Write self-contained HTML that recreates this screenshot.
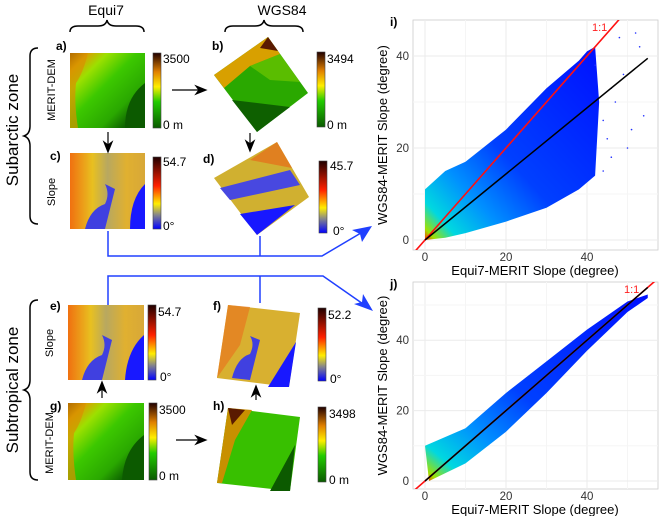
<!DOCTYPE html>
<html><head><meta charset="utf-8"><style>
html,body{margin:0;padding:0;background:#fff;width:660px;height:516px;overflow:hidden}
svg{display:block;font-family:"Liberation Sans",sans-serif}
</style></head><body>
<svg id="fig" width="660" height="516" viewBox="0 0 660 516">
<defs>
<linearGradient id="dem" x1="0" y1="1" x2="0" y2="0"><stop offset="0" stop-color="#0a5a00"/><stop offset="0.35" stop-color="#22cc00"/><stop offset="0.55" stop-color="#ffee00"/><stop offset="0.75" stop-color="#e08000"/><stop offset="1" stop-color="#200000"/></linearGradient>
<linearGradient id="slp" x1="0" y1="1" x2="0" y2="0"><stop offset="0" stop-color="#0000ff"/><stop offset="0.2" stop-color="#888888"/><stop offset="0.35" stop-color="#ffee00"/><stop offset="0.6" stop-color="#ff2000"/><stop offset="1" stop-color="#200000"/></linearGradient>
<linearGradient id="demimg" x1="0" y1="0" x2="1" y2="1"><stop offset="0" stop-color="#5a1a00"/><stop offset="0.12" stop-color="#d8a000"/><stop offset="0.25" stop-color="#9ce000"/><stop offset="0.45" stop-color="#3cc800"/><stop offset="0.7" stop-color="#2aa800"/><stop offset="0.85" stop-color="#0e6400"/><stop offset="1" stop-color="#0a5000"/></linearGradient>
<linearGradient id="slpimg" x1="0" y1="0" x2="1" y2="0"><stop offset="0" stop-color="#f07010"/><stop offset="0.3" stop-color="#e8c020"/><stop offset="0.5" stop-color="#b8a860"/><stop offset="0.75" stop-color="#e0b030"/><stop offset="1" stop-color="#d8a838"/></linearGradient>
<linearGradient id="slpimg2" x1="0" y1="0" x2="1" y2="0"><stop offset="0" stop-color="#f07010"/><stop offset="0.3" stop-color="#e8c020"/><stop offset="0.5" stop-color="#b8a860"/><stop offset="0.75" stop-color="#e0b030"/><stop offset="1" stop-color="#d8a838"/></linearGradient>
<linearGradient id="cloud" x1="0" y1="1" x2="1" y2="0"><stop offset="0" stop-color="#ff3000"/><stop offset="0.03" stop-color="#a0e000"/><stop offset="0.1" stop-color="#00d8e0"/><stop offset="0.25" stop-color="#0090ff"/><stop offset="0.45" stop-color="#0040ff"/><stop offset="1" stop-color="#0010ff"/></linearGradient>
</defs>

<text x="106" y="15" font-size="14" text-anchor="middle">Equi7</text>
<text x="282" y="15" font-size="14" text-anchor="middle">WGS84</text>
<path d="M70,32 q0,-6 8,-6 h20 q8,0 9,-6 q1,6 9,6 h20 q8,0 8,6" fill="none" stroke="#000" stroke-width="1.5"/>
<path d="M225,32 q0,-6 8,-6 h22 q8,0 9,-6 q1,6 9,6 h22 q8,0 8,6" fill="none" stroke="#000" stroke-width="1.5"/>
<path d="M38,48 q-8,0 -8,8 v70 q0,8 -6,10 q6,2 6,10 v70 q0,8 8,8" fill="none" stroke="#000" stroke-width="1.5"/>
<path d="M38,300 q-8,0 -8,8 v72 q0,8 -6,10 q6,2 6,10 v72 q0,8 8,8" fill="none" stroke="#000" stroke-width="1.5"/>
<text transform="translate(18,130) rotate(-90)" font-size="17" text-anchor="middle">Subarctic zone</text>
<text transform="translate(18,390) rotate(-90)" font-size="17" text-anchor="middle">Subtropical zone</text>
<text transform="translate(55,90) rotate(-90)" font-size="11" text-anchor="middle">MERIT-DEM</text>
<text transform="translate(55,192) rotate(-90)" font-size="11" text-anchor="middle">Slope</text>
<text transform="translate(53,343) rotate(-90)" font-size="11" text-anchor="middle">Slope</text>
<text transform="translate(53,443) rotate(-90)" font-size="11" text-anchor="middle">MERIT-DEM</text>

<g font-size="12" font-weight="bold">
<text x="56" y="50">a)</text>
<text x="212" y="50">b)</text>
<text x="50" y="160">c)</text>
<text x="203" y="163">d)</text>
<text x="50" y="310">e)</text>
<text x="213" y="310">f)</text>
<text x="50" y="410">g)</text>
<text x="213" y="410">h)</text>
</g>

<g><rect x="70" y="53" width="75" height="75" fill="url(#demimg)"/><path d="M70,53 h18 q-5,20 -12,30 q-2,20 2,45 h-8z" fill="#d89000" opacity="0.7"/><path d="M125,128 q0,-30 20,-45 v45z" fill="#0c5a00"/></g>
<g><polygon points="268,37 308,93 257,132 214,75" fill="#2aa800"/><polygon points="268,37 280,54 250,66 224,88 214,75" fill="#d8a000"/><polygon points="268,37 278,51 260,48" fill="#5a1a00"/><polygon points="232,100 290,107 257,132" fill="#0e6000"/><polygon points="280,54 300,82 270,80 250,66" fill="#7ccc00" opacity="0.6"/></g>
<g><rect x="70" y="153" width="75" height="76" fill="#d8b030"/><rect x="70" y="153" width="75" height="76" fill="url(#slpimg2)"/><path d="M85,229 q5,-20 20,-25 q5,-10 0,-20 l10,5 q-5,20 -10,40z" fill="#4040e0"/><path d="M130,229 q0,-30 15,-45 v45z" fill="#1818ff"/></g>
<g><polygon points="277,142 309,197 257,235 214,178" fill="#d0b030"/><polygon points="220,188 290,170 300,185 230,200" fill="#4848e0"/><polygon points="240,214 295,205 257,235" fill="#1818ff"/><polygon points="277,142 292,168 250,160" fill="#e08020"/></g>
<g><rect x="68" y="305" width="76" height="75" fill="url(#slpimg)"/><path d="M82,380 q5,-20 20,-25 q5,-10 0,-20 l10,5 q-5,20 -10,40z" fill="#4040e0"/><path d="M125,380 q2,-30 19,-45 v45z" fill="#1818ff"/></g>
<g><polygon points="228,305 300,313 289,387 217,378" fill="#d8b030"/><polygon points="228,305 250,307 240,345 217,378" fill="#e87820" opacity="0.7"/><path d="M232,378 q5,-20 18,-24 q5,-10 0,-18 l10,4 q-5,20 -10,40z" fill="#4040e0"/><polygon points="268,387 296,342 289,387" fill="#1818ff"/></g>
<g><rect x="68" y="403" width="76" height="77" fill="url(#demimg)"/><path d="M68,403 h18 q-5,20 -12,30 q-2,20 2,47 h-8z" fill="#d89000" opacity="0.7"/><path d="M122,480 q2,-30 22,-45 v45z" fill="#0c5a00"/></g>
<g><polygon points="228,408 300,417 290,491 217,483" fill="#38c000"/><polygon points="228,408 252,410 235,440 222,483 217,483" fill="#c89000"/><polygon points="228,408 245,410 232,425" fill="#5a1a00"/><polygon points="270,491 295,445 290,491" fill="#0c5a00"/></g>

<g font-size="12">
<rect x="153" y="53" width="8" height="75" fill="url(#dem)" stroke="#444" stroke-width="0.6"/>
<text x="163" y="63">3500</text><text x="163" y="129">0 m</text>
<rect x="153" y="157" width="8" height="72" fill="url(#slp)" stroke="#444" stroke-width="0.6"/>
<text x="163" y="166">54.7</text><text x="163" y="230">0°</text>
<rect x="317" y="52" width="8" height="75" fill="url(#dem)" stroke="#444" stroke-width="0.6"/>
<text x="327" y="63">3494</text><text x="327" y="129">0 m</text>
<rect x="319" y="161" width="8" height="72" fill="url(#slp)" stroke="#444" stroke-width="0.6"/>
<text x="330" y="170">45.7</text><text x="333" y="235">0°</text>
<rect x="148" y="305" width="8" height="75" fill="url(#slp)" stroke="#444" stroke-width="0.6"/>
<text x="158" y="316">54.7</text><text x="160" y="381">0°</text>
<rect x="318" y="308" width="8" height="73" fill="url(#slp)" stroke="#444" stroke-width="0.6"/>
<text x="328" y="319">52.2</text><text x="330" y="383">0°</text>
<rect x="149" y="403" width="8" height="77" fill="url(#dem)" stroke="#444" stroke-width="0.6"/>
<text x="159" y="414">3500</text><text x="159" y="480">0 m</text>
<rect x="318" y="407" width="8" height="75" fill="url(#dem)" stroke="#444" stroke-width="0.6"/>
<text x="329" y="418">3498</text><text x="329" y="484">0 m</text>
</g>

<g stroke="#000" stroke-width="1.2" fill="#000">
<line x1="172" y1="90" x2="200" y2="90"/><polygon points="206,90 196,86 199,90 196,94"/>
<line x1="108" y1="132" x2="108" y2="146"/><polygon points="108,152 104,142 108,145 112,142"/>
<line x1="250" y1="133" x2="250" y2="145"/><polygon points="250,151 246,141 250,144 254,141"/>
<line x1="102" y1="398" x2="102" y2="388"/><polygon points="102,382 98,392 102,389 106,392"/>
<line x1="256" y1="400" x2="256" y2="392"/><polygon points="256,386 252,396 256,393 260,396"/>
<line x1="176" y1="440" x2="200" y2="440"/><polygon points="206,440 196,436 199,440 196,444"/>
</g>

<g stroke="#2040ff" stroke-width="1.5" fill="none">
<path d="M108,231 V256 H322 L366,230"/>
<line x1="260" y1="236" x2="260" y2="256"/>
<path d="M108,305 V276 H323 L366,306"/>
<line x1="260" y1="303" x2="260" y2="276"/>
</g>
<polygon points="372,226 352,230 360,234 362,242" fill="#2040ff"/>
<polygon points="373,311 363,294 362,302 354,304" fill="#2040ff"/>

<g id="plots"></g>
</svg>
<script>
// Panel i data
const iCats = [0, 5, 10, 20, 30, 38, 40, 42];
const iUpper = [11, 15, 17, 24, 33, 39, 41, 42];
const iLowerX = [0, 5, 10, 20, 30, 38, 42, 43];
const iLower = [0, 0.5, 1.5, 4, 7, 11, 14, 30];
const iFit = [0, 39.5];
const iScatterX = [42, 44, 46, 48, 50, 52, 54, 45, 49, 53, 47, 51, 44, 46];
const iScatterY = [38, 26, 33, 44, 20, 45, 27, 22, 36, 42, 30, 24, 15, 18];
// Panel j data
const jCats = [0, 10, 20, 30, 40, 50, 55];
const jUpper = [10, 15, 25, 34, 43, 51, 53];
const jLowerX = [1, 10, 20, 30, 40, 50, 55];
const jLower = [0, 5, 14, 25, 37, 48, 52];
const jFit = [0, 55];
const xTicks = [0, 20, 40];
const iYTicks = [0, 20, 40];
const jYTicks = [0, 20, 40];

const NS = 'http://www.w3.org/2000/svg';
const root = document.getElementById('plots');
function mk(tag, attrs, parent) { const e = document.createElementNS(NS, tag); for (const k in attrs) e.setAttribute(k, attrs[k]); (parent || root).appendChild(e); return e; }

function panel(cfg) {
  const g = mk('g', {});
  
  
  const xs = v => 425 + v * 4.05;
  const ys = v => cfg.y0 - v * cfg.ky;
  mk('rect', { x: 413, y: cfg.top, width: 245, height: cfg.bottom - cfg.top, fill: '#fff', stroke: '#ccc', 'stroke-width': 0.8 }, g);
  for (let v = 0; v <= 50; v += 10) {
    mk('line', { x1: xs(v), x2: xs(v), y1: cfg.top, y2: cfg.bottom, stroke: v % 20 === 0 ? '#ebebeb' : '#f5f5f5' }, g);
  }
  for (let v = 0; v <= cfg.ymax; v += 10) {
    if (ys(v) < cfg.top) continue;
    mk('line', { x1: 413, x2: 658, y1: ys(v), y2: ys(v), stroke: v % 20 === 0 ? '#ebebeb' : '#f5f5f5' }, g);
  }
  let pts = cfg.cats.map((c, k) => xs(c) + ',' + ys(cfg.upper[k]));
  for (let k = cfg.lowerX.length - 1; k >= 0; k--) pts.push(xs(cfg.lowerX[k]) + ',' + ys(cfg.lower[k]));
  const cl = mk('polygon', { points: pts.join(' '), fill: 'url(#cloud)' }, g);
  
  
  (cfg.sx || []).forEach((x, k) => {
    const d = mk('circle', { cx: xs(x), cy: ys(cfg.sy[k]), r: 0.8, fill: '#2030ff' }, g);
    
    
  });
  const lo = -3, hi = 60;
  const one = mk('line', { x1: xs(lo), y1: ys(lo), x2: xs(hi), y2: ys(hi), stroke: '#ff1010', 'stroke-width': 1.6 }, g);
  
  
  const cp = mk('clipPath', { id: 'clip' + cfg.name }, g);
  mk('rect', { x: 413, y: cfg.top, width: 245, height: cfg.bottom - cfg.top }, cp);
  one.setAttribute('clip-path', 'url(#clip' + cfg.name + ')');
  const fit = mk('line', { x1: xs(0), y1: ys(cfg.fit[0]), x2: xs(55), y2: ys(cfg.fit[1]), stroke: '#000', 'stroke-width': 1.5 }, g);
  
  
  const t = mk('text', { x: cfg.lblx, y: cfg.top + 11, fill: '#ff2020', 'font-size': 11 }, g);
  t.textContent = '1:1';
  
  
  xTicks.forEach(v => { const e = mk('text', { x: xs(v), y: cfg.bottom + 11, 'font-size': 11.5, 'text-anchor': 'middle', fill: '#333' }, g); e.textContent = v;
      });
  cfg.yt.forEach(v => { const e = mk('text', { x: 409, y: ys(v) + 4, 'font-size': 11.5, 'text-anchor': 'end', fill: '#333' }, g); e.textContent = v;
      });
  const xt = mk('text', { x: 535, y: cfg.bottom + 25, 'font-size': 13, 'text-anchor': 'middle' }, g);
  xt.textContent = 'Equi7-MERIT Slope (degree)';
  
  
  const yt = mk('text', { transform: 'translate(387,' + ((cfg.top + cfg.bottom) / 2) + ') rotate(-90)', 'font-size': 13, 'text-anchor': 'middle' }, g);
  yt.textContent = 'WGS84-MERIT Slope (degree)';
  
  
  const pl = mk('text', { x: 390, y: cfg.top + 6, 'font-size': 12, 'font-weight': 'bold' }, g);
  pl.textContent = cfg.label;
  
  
}
panel({ name: 'scatter-i', label: 'i)', top: 20, bottom: 250, y0: 240, ky: 4.6, ymax: 45, cats: iCats, upper: iUpper, lowerX: iLowerX, lower: iLower, fit: iFit, sx: iScatterX, sy: iScatterY, yt: iYTicks, lblx: 592 });
panel({ name: 'scatter-j', label: 'j)', top: 282, bottom: 489, y0: 481, ky: 3.52, ymax: 55, cats: jCats, upper: jUpper, lowerX: jLowerX, lower: jLower, fit: jFit, yt: jYTicks, lblx: 624 });
</script>
</body></html>
